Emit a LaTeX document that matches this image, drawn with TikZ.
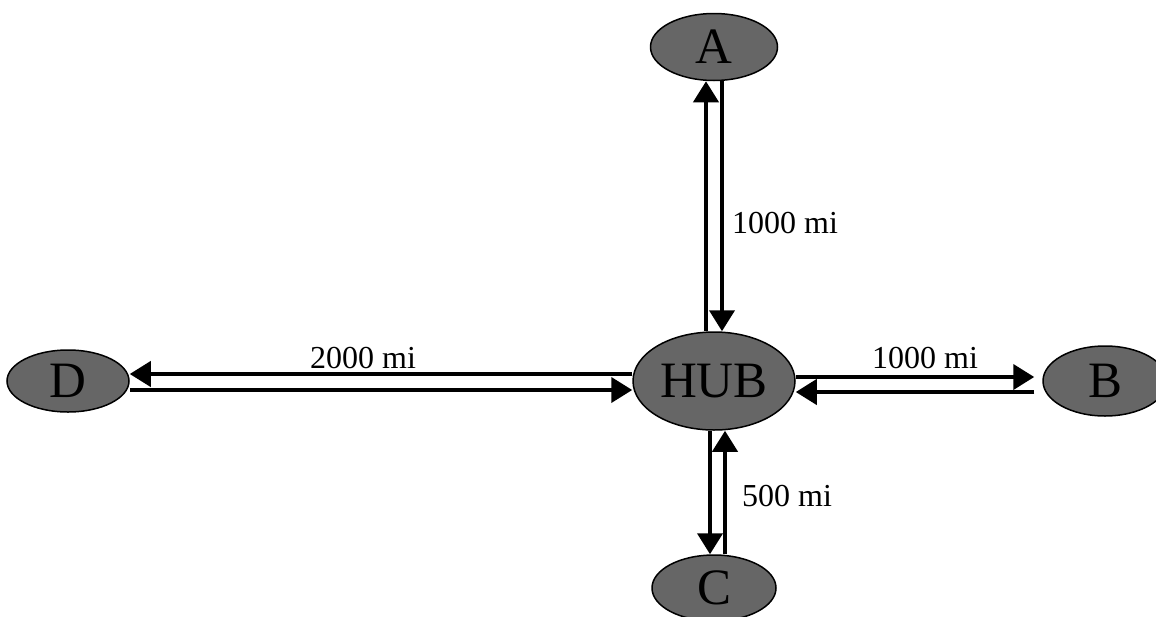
\documentclass[tikz,border=0pt]{standalone}
\usepackage{fontspec}
\setmainfont{Liberation Serif}
\usetikzlibrary{shapes.geometric, arrows.meta}

\begin{document}
\begin{tikzpicture}[x=1pt, y=-1pt,
	city/.style={ellipse, draw=black, line width=1.5pt, fill=black!60, inner sep=0pt, font=\fontsize{51}{51}\selectfont},
	route/.style={line width=4pt, -{Triangle[length=21pt,width=25pt]}},
	dist/.style={anchor=base, inner sep=0pt, font=\fontsize{32}{32}\selectfont},
	]
	\useasboundingbox (0, 0) rectangle (1156, 616);

	\node[city, minimum width=162pt, minimum height=98pt] at (714, 381) (hub) {HUB};
	\node[city, minimum width=127pt, minimum height=67pt] at (714, 47) (a) {A};
	\node[city, minimum width=124pt, minimum height=70pt] at (1105, 381) (b) {B};
	\node[city, minimum width=124pt, minimum height=66pt] at (714, 588) (c) {C};
	\node[city, minimum width=122pt, minimum height=62pt] at (68, 381) (d) {D};

	\node[dist] at (785, 233) (ab) {1000 mi};
	\node[dist] at (925, 368) (bb) {1000 mi};
	\node[dist] at (787, 506) (cb) {500 mi};
	\node[dist] at (363, 368) (db) {2000 mi};

	\draw[route] ([xshift=-8pt]hub.north) to ([xshift=-8pt]a.south);
	\draw[route] ([xshift=8pt]a.south) to ([xshift=8pt]hub.north);
	\draw[route, shorten >=8pt] ([yshift=4pt]hub.east) to ([yshift=4pt]b.west);
	\draw[route, shorten <=8pt] ([yshift=-11pt]b.west) to ([yshift=-11pt]hub.east);
	\draw[route] ([xshift=-4pt]hub.south) to ([xshift=-4pt]c.north);
	\draw[route] ([xshift=11pt]c.north) to ([xshift=11pt]hub.south);
	\draw[route] ([yshift=7pt]hub.west) to ([yshift=7pt]d.east);
	\draw[route] ([yshift=-9pt]d.east) to ([yshift=-9pt]hub.west);
\end{tikzpicture}
\end{document}
